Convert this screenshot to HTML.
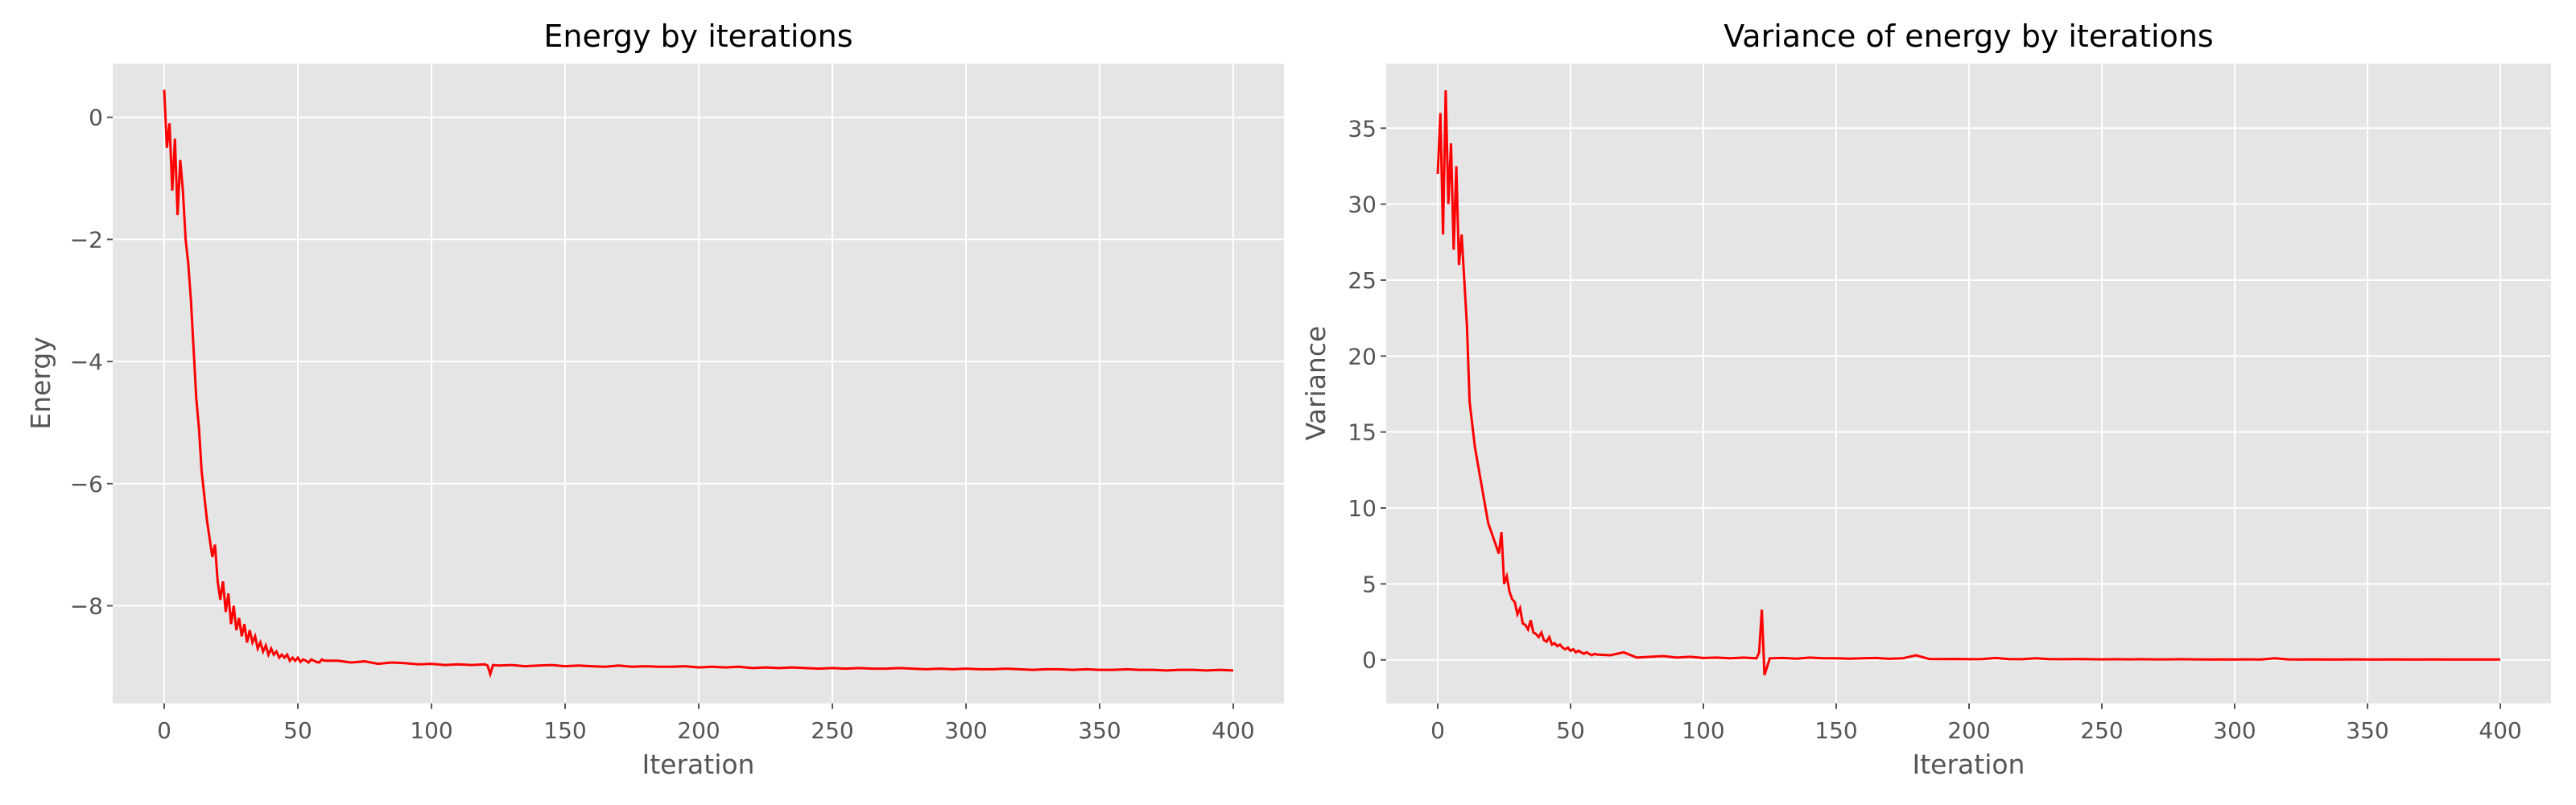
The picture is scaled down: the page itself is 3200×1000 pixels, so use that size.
<!DOCTYPE html>
<html><head><meta charset="utf-8"><style>
body{margin:0;background:#fff;}
svg{display:block;font-family:"DejaVu Sans","Liberation Sans",sans-serif;}
</style></head><body>
<svg id="fig" width="3200" height="1000" viewBox="0 0 3200 1000"></svg>
<script>
const iterations = [0,1,2,3,4,5,6,7,8,9,10,11,12,13,14,15,16,17,18,19,20,21,22,23,24,25,26,27,28,29,30,31,32,33,34,35,36,37,38,39,40,41,42,43,44,45,46,47,48,49,50,51,52,53,54,55,56,57,58,59,60,
65,70,75,80,85,90,95,100,105,110,115,120,121,122,123,
125,130,135,140,145,150,155,160,165,170,175,180,185,190,195,200,205,210,215,220,225,230,235,240,245,250,255,260,265,270,275,280,285,290,295,300,305,310,315,320,325,330,335,340,345,350,355,360,365,370,375,380,385,390,395,400];
const energy = [0.45,-0.5,-0.1,-1.2,-0.35,-1.6,-0.7,-1.2,-2.0,-2.4,-3.0,-3.8,-4.6,-5.1,-5.8,-6.2,-6.6,-6.9,-7.2,-7.0,-7.6,-7.9,-7.6,-8.1,-7.8,-8.3,-8.0,-8.4,-8.2,-8.5,-8.3,-8.6,-8.4,-8.6,-8.5,-8.7,-8.6,-8.75,-8.65,-8.8,-8.7,-8.8,-8.75,-8.85,-8.8,-8.85,-8.8,-8.9,-8.85,-8.9,-8.85,-8.92,-8.88,-8.9,-8.93,-8.88,-8.9,-8.92,-8.93,-8.88,-8.9,
-8.9,-8.93,-8.91,-8.95,-8.93,-8.94,-8.96,-8.95,-8.97,-8.96,-8.97,-8.96,-8.98,-9.12,-8.97,
-8.98,-8.97,-8.99,-8.98,-8.97,-8.99,-8.98,-8.99,-9.0,-8.98,-9.0,-8.99,-9.0,-9.0,-8.99,-9.01,-9.0,-9.01,-9.0,-9.02,-9.01,-9.02,-9.01,-9.02,-9.03,-9.02,-9.03,-9.02,-9.03,-9.03,-9.02,-9.03,-9.04,-9.03,-9.04,-9.03,-9.04,-9.04,-9.03,-9.04,-9.05,-9.04,-9.04,-9.05,-9.04,-9.05,-9.05,-9.04,-9.05,-9.05,-9.06,-9.05,-9.05,-9.06,-9.05,-9.06];
const variance = [32,36,28,37.5,30,34,27,32.5,26,28,25,22,17,15.5,14,13,12,11,10,9,8.5,8,7.5,7,8.4,5,5.5,4.5,4,3.8,3,3.4,2.4,2.3,2,2.6,1.8,1.7,1.5,1.8,1.3,1.2,1.5,1,1.1,0.9,1,0.8,0.7,0.8,0.6,0.7,0.5,0.6,0.5,0.4,0.5,0.4,0.3,0.4,0.35,
0.3,0.5,0.15,0.2,0.25,0.15,0.2,0.12,0.15,0.1,0.15,0.1,0.5,3.3,-1.0,
0.1,0.12,0.08,0.15,0.1,0.1,0.08,0.1,0.12,0.07,0.1,0.3,0.06,0.05,0.06,0.04,0.05,0.12,0.05,0.04,0.1,0.05,0.04,0.05,0.04,0.03,0.04,0.03,0.04,0.03,0.03,0.04,0.03,0.02,0.03,0.02,0.03,0.02,0.1,0.03,0.02,0.03,0.02,0.02,0.03,0.02,0.02,0.03,0.02,0.02,0.03,0.02,0.02,0.02,0.02,0.02];
const xTicks = [0,50,100,150,200,250,300,350,400];
const energyTicks = [0,-2,-4,-6,-8];
const varianceTicks = [0,5,10,15,20,25,30,35];

const NS = 'http://www.w3.org/2000/svg';
const svg = document.getElementById('fig');
function mk(tag, attrs, parent){const e=document.createElementNS(NS,tag);for(const k in attrs)e.setAttribute(k,attrs[k]);(parent||svg).appendChild(e);return e;}
function fmt(v){return v<0?'\u2212'+Math.abs(v):String(v);}

function drawChart(cfg){
  const g = mk('g',{});
  
  
  const L=cfg.left,R=cfg.right,T=79,B=873.7;
  const xScale = v => cfg.x0 + v*cfg.xPer;
  const yScale = v => cfg.y0 - v*cfg.yPer;
  const bg = mk('rect',{x:L,y:T,width:R-L,height:B-T,fill:'#e5e5e5'},g);
  
  
  xTicks.forEach(t=>{
    const x=xScale(t);
    const gl=mk('line',{x1:x,x2:x,y1:T,y2:B,stroke:'#fff','stroke-width':2},g);
    
    
    mk('line',{x1:x,x2:x,y1:B,y2:B+7,stroke:'#555','stroke-width':2},g);
    const tx=mk('text',{x:x,y:917,'text-anchor':'middle','font-size':28,fill:'#555'},g);
    tx.textContent=fmt(t);
    
    
  });
  cfg.yTicks.forEach(t=>{
    const y=yScale(t);
    const gl=mk('line',{x1:L,x2:R,y1:y,y2:y,stroke:'#fff','stroke-width':2},g);
    
    
    mk('line',{x1:L-7,x2:L,y1:y,y2:y,stroke:'#555','stroke-width':2},g);
    const tx=mk('text',{x:L-12,y:y+10,'text-anchor':'end','font-size':28,fill:'#555'},g);
    tx.textContent=fmt(t);
    
    
  });
  let d='';
  iterations.forEach((it,i)=>{d+=(i?'L':'M')+xScale(it).toFixed(1)+','+yScale(cfg.values[i]).toFixed(1);});
  const line=mk('path',{d:d,fill:'none',stroke:'#ff0000','stroke-width':3,'stroke-linejoin':'miter'},g);
  
  
  const title=mk('text',{x:(L+R)/2,y:58,'text-anchor':'middle','font-size':38,fill:'#000'},g);
  title.textContent=cfg.title;
  
  
  const xl=mk('text',{x:(L+R)/2,y:961,'text-anchor':'middle','font-size':33,fill:'#555'},g);
  xl.textContent='Iteration';
  
  
  const yl=mk('text',{x:0,y:0,'text-anchor':'middle','font-size':33,fill:'#555',transform:'translate('+cfg.ylx+',476) rotate(-90)'},g);
  yl.textContent=cfg.ylabel;
  
  
}
drawChart({name:'energy-chart',left:140,right:1595,x0:204,xPer:166/50,y0:145.7,yPer:75.85,yTicks:energyTicks,values:energy,title:'Energy by iterations',ylabel:'Energy',ylx:62});
drawChart({name:'variance-chart',left:1722,right:3169,x0:1786,xPer:165/50,y0:819.7,yPer:18.87,yTicks:varianceTicks,values:variance,title:'Variance of energy by iterations',ylabel:'Variance',ylx:1646});
</script>
</body></html>
